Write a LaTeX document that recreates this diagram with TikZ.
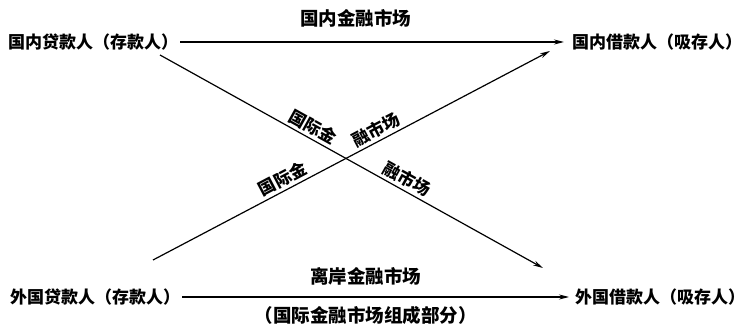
\documentclass[tikz,border=0pt]{standalone}
\usepackage{fontspec}
\setmainfont{Noto Sans CJK SC}
\usetikzlibrary{arrows.meta}
\tikzset{
  party/.style={inner sep=2pt, font=\fontsize{17}{17}\selectfont\bfseries},
  mlabel/.style={inner sep=2pt, font=\fontsize{18.5}{18.5}\selectfont\bfseries},
  dlabel/.style={inner sep=1pt, font=\fontsize{17}{17}\selectfont\bfseries, sloped},
  flow/.style={line width=1.2pt, -{Stealth[length=10pt,width=5pt]}}
}
\begin{document}
\begin{tikzpicture}[x=1pt,y=-1pt]
\useasboundingbox (0,0) rectangle (748,326);
\node[party, anchor=west] (dl) at (6,42) {国内贷款人（存款人）};
\node[party, anchor=west] (db) at (570,42) {国内借款人（吸存人）};
\node[party, anchor=west] (fl) at (8,297) {外国贷款人（存款人）};
\node[party, anchor=west] (fb) at (573,297) {外国借款人（吸存人）};
\coordinate (d1s) at (160,55);
\coordinate (d1e) at (543,268);
\coordinate (d2s) at (153,260);
\coordinate (d2e) at (550,51);
\draw[flow, shorten >=6pt] (dl.east) -- node[mlabel, pos=0.45, above=12pt] (lt) {国内金融市场} (db.west);
\draw[flow, shorten >=4pt] (fl.east) -- node[mlabel, pos=0.47, above=9pt] (lb) {离岸金融市场}
  node[mlabel, pos=0.47, below=7pt] (lb2) {（国际金融市场组成部分）} (fb.west);
\draw[flow] (d1s) -- node[dlabel, pos=0.385, above=2pt] (x1) {国际金} node[dlabel, pos=0.63, above=2pt] (x2) {融市场} (d1e);
\draw[flow] (d2s) -- node[dlabel, pos=0.34, above=2pt] (x3) {国际金} node[dlabel, pos=0.575, above=2pt] (x4) {融市场} (d2e);
\end{tikzpicture}
\end{document}
